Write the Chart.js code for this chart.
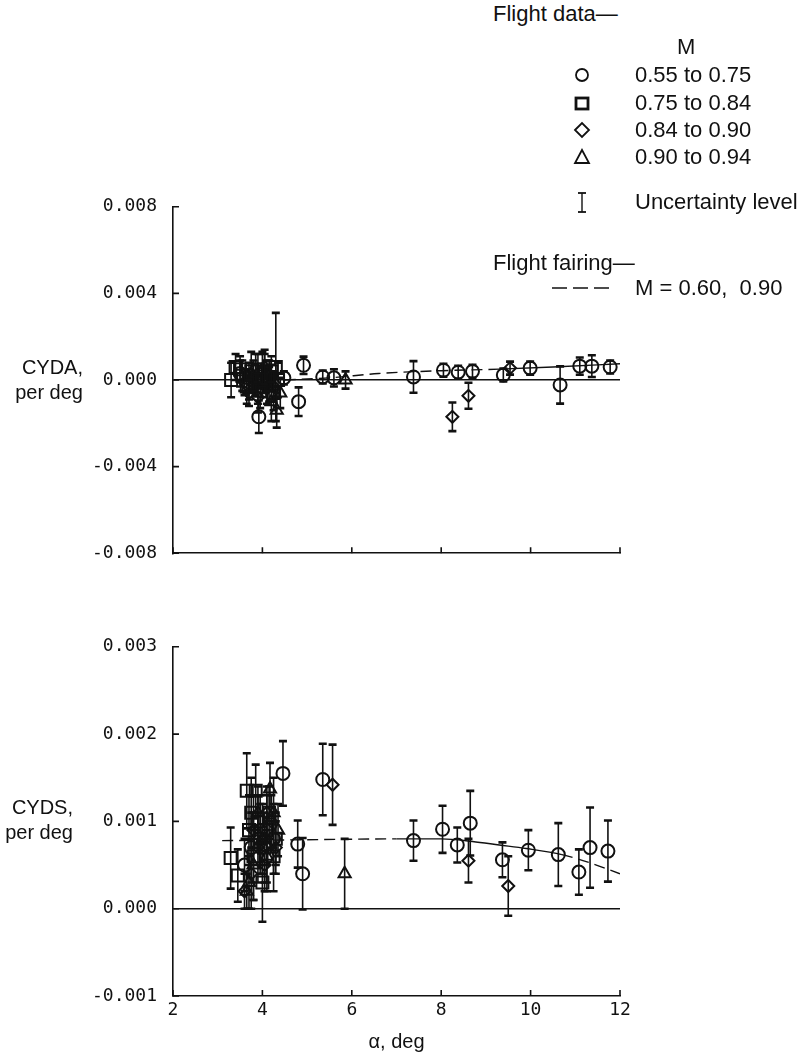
<!DOCTYPE html>
<html>
<head>
<meta charset="utf-8">
<script src="https://cdn.jsdelivr.net/npm/chart.js@4"></script>
<style>
  body { margin: 0; background: #fff; }
  #page { position: relative; width: 808px; height: 1058px; overflow: hidden;
          font-family: "Liberation Sans", Arial, sans-serif; color: #111; }
  canvas { position: absolute; left: 0; }
  .t { position: absolute; white-space: nowrap; font-size: 22px; line-height: 22px; }
  .ylab { position: absolute; text-align: right; font-size: 20px; line-height: 25px; }
  svg { position: absolute; left: 0; top: 0; }
</style>
</head>
<body>
<div id="page">
  <canvas id="cyda" width="660" height="400" style="top:180px"></canvas>
  <canvas id="cyds" width="660" height="438" style="top:620px"></canvas>

  <div class="ylab" style="left:0;width:83px;top:355px">CYDA,<br>per deg</div>
  <div class="ylab" style="left:0;width:73px;top:795px">CYDS,<br>per deg</div>

  <!-- legend -->
  <div class="t" style="left:493px;top:3px">Flight data—</div>
  <div class="t" style="left:677px;top:36px">M</div>
  <div class="t" style="left:635px;top:64px">0.55 to 0.75</div>
  <div class="t" style="left:635px;top:92px">0.75 to 0.84</div>
  <div class="t" style="left:635px;top:119px">0.84 to 0.90</div>
  <div class="t" style="left:635px;top:146px">0.90 to 0.94</div>
  <div class="t" style="left:635px;top:191px">Uncertainty level</div>
  <div class="t" style="left:493px;top:252px">Flight fairing—</div>
  <div class="t" style="left:635px;top:277px">M = 0.60,&nbsp; 0.90</div>
  <svg width="808" height="300" fill="none" stroke="#111">
    <circle cx="582" cy="75" r="6" stroke-width="1.8"/>
    <rect x="576" y="98" width="12" height="11" stroke-width="2.8"/>
    <polygon points="575,130 582,123 589,130 582,137" stroke-width="1.8"/>
    <polygon points="582,150 589,163 575,163" stroke-width="1.8"/>
    <line x1="582" y1="193" x2="582" y2="212" stroke-width="1.4"/>
    <line x1="578" y1="193" x2="586" y2="193" stroke-width="1.8"/>
    <line x1="578" y1="212" x2="586" y2="212" stroke-width="1.8"/>
    <line x1="552" y1="288" x2="610" y2="288" stroke-width="1.4" stroke-dasharray="15 6"/>
  </svg>
</div>

<script>
// axis ticks
const xTicks = [2, 4, 6, 8, 10, 12];
const daTicks = [-0.008, -0.004, 0, 0.004, 0.008];
const dsTicks = [-0.001, 0, 0.001, 0.002, 0.003];

// CYDA panel - alpha, value, uncertainty
const daCircleA = [3.5, 3.7, 3.85, 3.92, 4.1, 4.48, 4.81, 4.92, 5.35, 5.6, 7.38, 8.05, 8.38, 8.7, 9.39, 9.99, 10.66, 11.1, 11.37, 11.78];
const daCircleV = [0.0003, -0.0002, 0.0004, -0.0017, 0.0002, 0.0001, -0.001, 0.00068, 0.00014, 0.0001, 0.00014, 0.00045, 0.00036, 0.0004, 0.00023, 0.00055, -0.00023, 0.00064, 0.00064, 0.0006];
const daCircleE = [0.0006, 0.0007, 0.0008, 0.00075, 0.0007, 0.0003, 0.00066, 0.0004, 0.0003, 0.0004, 0.00073, 0.0003, 0.0003, 0.0003, 0.0003, 0.0003, 0.00086, 0.0004, 0.0005, 0.0003];

const daSquareA = [3.3, 3.4, 3.5, 3.55, 3.65, 3.7, 3.75, 3.85, 3.9, 3.95, 4.0, 4.05, 4.15, 4.2, 4.25, 4.3, 4.35];
const daSquareV = [0.0, 0.0006, 0.0005, 0.0002, -0.0003, 0.0001, 0.0004, 0.0, 0.0005, -0.0005, -0.0001, 0.0003, -0.0002, 0.0004, -0.0006, 0.0006, 0.0];
const daSquareE = [0.0008, 0.0006, 0.0006, 0.0007, 0.0008, 0.0007, 0.0009, 0.0007, 0.0007, 0.0008, 0.0007, 0.0009, 0.0008, 0.0007, 0.0008, 0.0025, 0.0008];

const daDiamondA = [3.6, 3.7, 3.8, 3.9, 4.0, 4.1, 4.2, 4.25, 8.25, 8.61, 9.54];
const daDiamondV = [-0.0001, -0.0006, 0.0002, -0.0008, 0.0005, -0.0004, 0.0001, -0.0003, -0.0017, -0.00073, 0.00055];
const daDiamondE = [0.0006, 0.0006, 0.0007, 0.0007, 0.0008, 0.0007, 0.0006, 0.0007, 0.00066, 0.0006, 0.0003];

const daTriA = [3.9, 4.05, 4.15, 4.2, 4.32, 4.4, 5.86];
const daTriV = [-0.0004, 0.0006, 0.0002, -0.001, -0.0014, -0.0006, 0.0];
const daTriE = [0.0007, 0.0008, 0.0007, 0.0009, 0.0008, 0.0007, 0.0004];

const daFairA = [4.5, 5.5, 6.6, 8.0, 9.3, 10.5, 12];
const daFairV = [0.0, 0.0001, 0.0003, 0.00043, 0.0005, 0.0006, 0.00075];

// CYDS panel
const dsCircleA = [3.6, 3.75, 3.95, 4.1, 4.25, 4.46, 4.79, 4.9, 5.35, 7.38, 8.03, 8.36, 8.65, 9.37, 9.95, 10.62, 11.08, 11.33, 11.73];
const dsCircleV = [0.0005, 0.0007, 0.0009, 0.0006, 0.0008, 0.00155, 0.00074, 0.0004, 0.00148, 0.00078, 0.00091, 0.00073, 0.00098, 0.00056, 0.00067, 0.00062, 0.00042, 0.0007, 0.00066];
const dsCircleE = [0.0003, 0.0004, 0.0004, 0.0003, 0.0004, 0.00037, 0.00027, 0.00041, 0.00041, 0.00023, 0.00027, 0.0002, 0.00037, 0.0002, 0.00023, 0.00036, 0.00026, 0.00046, 0.00035];

const dsSquareA = [3.29, 3.45, 3.65, 3.7, 3.75, 3.8, 3.85, 3.9, 3.95, 4.0, 4.05, 4.1, 4.15, 4.25, 4.3];
const dsSquareV = [0.00058, 0.00038, 0.00135, 0.0009, 0.0011, 0.0006, 0.00135, 0.001, 0.0008, 0.0003, 0.0007, 0.0009, 0.0011, 0.0006, 0.0008];
const dsSquareE = [0.00035, 0.0003, 0.00043, 0.0004, 0.0004, 0.0005, 0.0003, 0.0003, 0.0004, 0.00045, 0.0004, 0.0004, 0.0003, 0.0004, 0.0003];

const dsDiamondA = [3.6, 3.75, 3.8, 3.9, 4.05, 4.1, 4.2, 4.3, 5.57, 8.61, 9.5];
const dsDiamondV = [0.0002, 0.0004, 0.0009, 0.0007, 0.0005, 0.0011, 0.001, 0.0007, 0.00142, 0.00055, 0.00026];
const dsDiamondE = [0.0002, 0.0004, 0.0004, 0.0004, 0.0003, 0.0003, 0.0003, 0.0003, 0.00046, 0.00025, 0.00034];

const dsTriA = [3.65, 3.7, 3.8, 3.9, 4.0, 4.1, 4.17, 4.25, 4.35, 5.84];
const dsTriV = [0.0002, 0.0003, 0.0005, 0.0011, 0.0008, 0.0006, 0.00137, 0.0011, 0.0009, 0.0004];
const dsTriE = [0.0002, 0.0003, 0.0004, 0.0003, 0.0004, 0.0004, 0.0003, 0.0004, 0.0003, 0.0004];

const dsFairA = [3.1, 5.0, 7.0, 8.0, 8.7, 9.3, 9.9, 10.7, 11.3, 12];
const dsFairV = [0.00078, 0.00079, 0.0008, 0.0008, 0.00077, 0.00073, 0.00069, 0.00062, 0.00053, 0.0004];

const INK = '#111';

// vertical uncertainty bars with caps
const errorBars = {
    id: 'errorBars',
    afterDatasetsDraw(chart) {
        const {ctx, scales: {x, y}} = chart;
        ctx.save();
        ctx.strokeStyle = INK;
        chart.data.datasets.forEach(ds => {
            if (!ds.errs) return;
            ds.data.forEach((p, j) => {
                const e = ds.errs[j];
                const px = x.getPixelForValue(p.x);
                const top = y.getPixelForValue(p.y + e);
                const bot = y.getPixelForValue(p.y - e);
                ctx.lineWidth = 1.6;
                ctx.beginPath();
                ctx.moveTo(px, top); ctx.lineTo(px, bot);
                ctx.stroke();
                ctx.lineWidth = 2.6;
                ctx.beginPath();
                ctx.moveTo(px - 4, top); ctx.lineTo(px + 4, top);
                ctx.moveTo(px - 4, bot); ctx.lineTo(px + 4, bot);
                ctx.stroke();
            });
        });
        ctx.restore();
    }
};

// tick marks pointing into the plot
const inwardTicks = {
    id: 'inwardTicks',
    afterDraw(chart) {
        const {ctx, chartArea: a, scales: {x, y}} = chart;
        ctx.save();
        ctx.strokeStyle = INK;
        ctx.lineWidth = 1.6;
        ctx.beginPath();
        y.ticks.forEach(t => {
            const py = y.getPixelForValue(t.value);
            ctx.moveTo(a.left, py); ctx.lineTo(a.left + 6, py);
        });
        x.ticks.forEach(t => {
            const px = x.getPixelForValue(t.value);
            ctx.moveTo(px, a.bottom); ctx.lineTo(px, a.bottom - 6);
        });
        ctx.stroke();
        ctx.restore();
    }
};

function pts(a, v) {
    return a.map((x, i) => ({x: x, y: v[i]}));
}

function markers(label, style, r, a, v, e) {
    return {
        type: 'scatter',
        label: label,
        data: pts(a, v),
        errs: e,
        pointStyle: style,
        pointRadius: r,
        pointBorderWidth: 2,
        borderColor: INK,
        backgroundColor: 'rgba(0,0,0,0)'
    };
}

function fairing(a, v, solidFrom, solidTo) {
    return {
        type: 'line',
        label: 'Flight fairing',
        data: pts(a, v),
        borderColor: INK,
        borderWidth: 1.4,
        pointRadius: 0,
        cubicInterpolationMode: 'monotone',
        segment: {
            borderDash: ctx => (ctx.p0.parsed.x >= solidFrom && ctx.p1.parsed.x <= solidTo) ? [] : [11, 6]
        }
    };
}

function makePanel(id, datasets, yMin, yMax, yTicks, showX) {
    new Chart(document.getElementById(id), {
        type: 'scatter',
        data: {datasets: datasets},
        options: {
            responsive: false,
            animation: false,
            devicePixelRatio: 1,
            layout: {padding: {left: 0, top: 25, right: 40, bottom: showX ? 0 : 24}},
            plugins: {legend: {display: false}, tooltip: {enabled: false}},
            scales: {
                x: {
                    type: 'linear',
                    min: 2,
                    max: 12,
                    afterBuildTicks: s => { s.ticks = xTicks.map(v => ({value: v})); },
                    afterFit: s => { s.height = showX ? 62 : 0; },
                    grid: {display: false, drawTicks: false},
                    border: {display: true, color: INK, width: 1.6},
                    ticks: {
                        display: showX,
                        padding: 4,
                        color: INK,
                        font: {family: 'DejaVu Sans Mono', size: 18}
                    },
                    title: {
                        display: showX,
                        text: 'α, deg',
                        color: INK,
                        padding: {top: 0, bottom: 4},
                        font: {family: 'Liberation Sans', size: 20}
                    }
                },
                y: {
                    min: yMin,
                    max: yMax,
                    afterBuildTicks: s => { s.ticks = yTicks.map(v => ({value: v})); },
                    afterFit: s => { s.width = 173; },
                    grid: {
                        drawTicks: false,
                        lineWidth: 1.4,
                        color: ctx => (ctx.tick && Math.abs(ctx.tick.value) < 1e-12) ? INK : 'rgba(0,0,0,0)'
                    },
                    border: {display: true, color: INK, width: 1.6},
                    ticks: {
                        padding: 16,
                        color: INK,
                        font: {family: 'DejaVu Sans Mono', size: 18},
                        callback: v => v.toFixed(3)
                    }
                }
            }
        },
        plugins: [errorBars, inwardTicks]
    });
}

makePanel('cyda', [
    fairing(daFairA, daFairV, 9.3, 12),
    markers('0.55 to 0.75', 'circle', 6.5, daCircleA, daCircleV, daCircleE),
    markers('0.75 to 0.84', 'rect', 8.5, daSquareA, daSquareV, daSquareE),
    markers('0.84 to 0.90', 'rectRot', 6, daDiamondA, daDiamondV, daDiamondE),
    markers('0.90 to 0.94', 'triangle', 7, daTriA, daTriV, daTriE)
], -0.008, 0.008, daTicks, false);

makePanel('cyds', [
    fairing(dsFairA, dsFairV, 7.0, 10.7),
    markers('0.55 to 0.75', 'circle', 6.5, dsCircleA, dsCircleV, dsCircleE),
    markers('0.75 to 0.84', 'rect', 8.5, dsSquareA, dsSquareV, dsSquareE),
    markers('0.84 to 0.90', 'rectRot', 6, dsDiamondA, dsDiamondV, dsDiamondE),
    markers('0.90 to 0.94', 'triangle', 7, dsTriA, dsTriV, dsTriE)
], -0.001, 0.003, dsTicks, true);
</script>
</body>
</html>
